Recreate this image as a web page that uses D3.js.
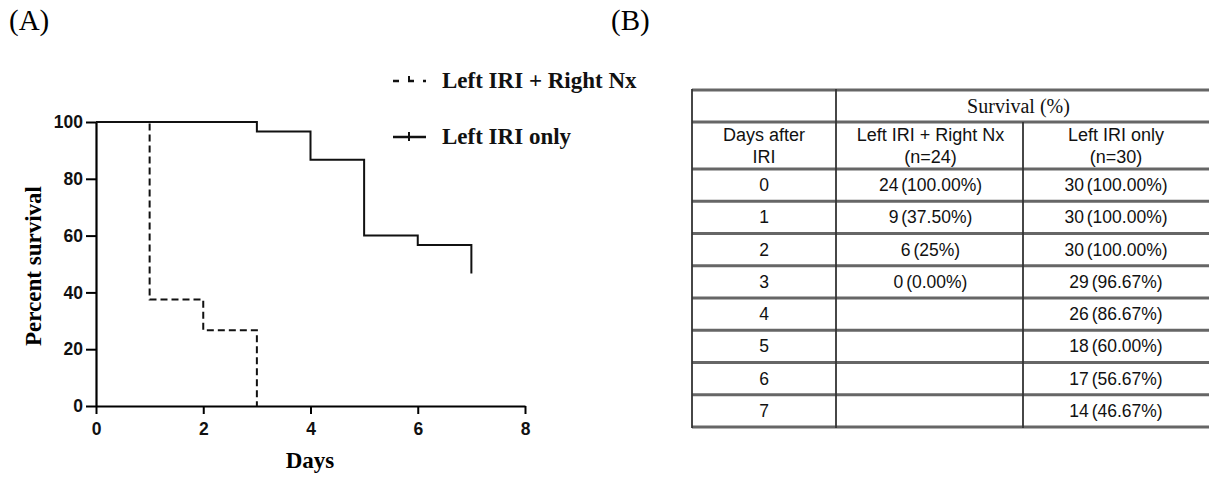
<!DOCTYPE html>
<html>
<head>
<meta charset="utf-8">
<script src="https://cdn.jsdelivr.net/npm/d3@7"></script>
<style>
  html, body { margin: 0; padding: 0; background: #fff; }
  svg { display: block; }
</style>
</head>
<body>
<svg id="fig" width="1209" height="479"></svg>
<script>
// Kaplan-Meier step data (days, percent survival)
const nxDays = [0, 1, 2, 3];
const nxPct = [100, 37.5, 26.7, 0];
const onlyDays = [0, 3, 4, 5, 6, 7];
const onlyPct = [100, 96.67, 86.67, 60, 56.67, 46.67];

const xTicks = [0, 2, 4, 6, 8];
const yTicks = [0, 20, 40, 60, 80, 100];

const seriesNames = ["Left IRI + Right Nx", "Left IRI only"];

// Survival table
const tableDays = ["0", "1", "2", "3", "4", "5", "6", "7"];
const nxCells = ["24 (100.00%)", "9 (37.50%)", "6 (25%)", "0 (0.00%)", "", "", "", ""];
const onlyCells = ["30 (100.00%)", "30 (100.00%)", "30 (100.00%)", "29 (96.67%)",
                   "26 (86.67%)", "18 (60.00%)", "17 (56.67%)", "14 (46.67%)"];
const headGroup = "Survival (%)";
const headDays = ["Days after", "IRI"];
const headNx = ["Left IRI + Right Nx", "(n=24)"];
const headOnly = ["Left IRI only", "(n=30)"];

const svg = d3.select("#fig");
const serif = "'Liberation Serif', 'Times New Roman', serif";
const sans = "'Liberation Sans', Arial, sans-serif";

// Panel letters
svg.append("text").attr("x", 9).attr("y", 30).attr("font-family", serif)
  .attr("font-size", 29).text("(A)");
svg.append("text").attr("x", 611).attr("y", 30).attr("font-family", serif)
  .attr("font-size", 29).text("(B)");

// ---------- Panel A: survival curves ----------
const x = d3.scaleLinear().domain([0, 8]).range([96, 525]);
const y = d3.scaleLinear().domain([0, 100]).range([406, 122]);

const gx = svg.append("g").attr("transform", `translate(0,${y(0)})`)
  .call(d3.axisBottom(x).tickValues(xTicks).tickSize(8).tickPadding(8).tickSizeOuter(0));
const gy = svg.append("g").attr("transform", `translate(${x(0)},0)`)
  .call(d3.axisLeft(y).tickValues(yTicks).tickSize(10).tickPadding(3).tickSizeOuter(0));

[gx, gy].forEach(g => {
  g.select(".domain").attr("stroke", "#000").attr("stroke-width", 2.2);
  g.selectAll(".tick line").attr("stroke", "#000").attr("stroke-width", 2);
  g.selectAll(".tick text").attr("font-family", sans).attr("font-weight", "bold")
    .attr("font-size", 17.5).attr("fill", "#111");
});
gx.selectAll(".tick text").attr("dy", "0.75em");

// Axis titles
svg.append("text").attr("x", 310).attr("y", 468).attr("text-anchor", "middle")
  .attr("font-family", serif).attr("font-weight", "bold").attr("font-size", 23)
  .text("Days");
svg.append("text").attr("transform", "translate(41,266) rotate(-90)")
  .attr("text-anchor", "middle").attr("font-family", serif).attr("font-weight", "bold")
  .attr("font-size", 23).text("Percent survival");

const step = d3.line().x(d => x(d[0])).y(d => y(d[1])).curve(d3.curveStepAfter);

svg.append("path").datum(d3.zip(onlyDays, onlyPct))
  .attr("d", step).attr("fill", "none").attr("stroke", "#111").attr("stroke-width", 2);
svg.append("path").datum(d3.zip(nxDays, nxPct))
  .attr("d", step).attr("fill", "none").attr("stroke", "#111").attr("stroke-width", 2)
  .attr("stroke-dasharray", "7,4");

// Legend
const legend = svg.append("g");
const legY = [81, 137];
const legBase = [88, 144];
seriesNames.forEach((name, i) => {
  const g = legend.append("g");
  g.append("line").attr("x1", 393).attr("x2", 426).attr("y1", legY[i]).attr("y2", legY[i])
    .attr("stroke", "#111").attr("stroke-width", 2.4)
    .attr("stroke-dasharray", i === 0 ? "6,9" : null);
  g.append("line").attr("x1", 409).attr("x2", 409)
    .attr("y1", legY[i] - 5).attr("y2", legY[i] + (i === 0 ? 0 : 4))
    .attr("stroke", "#111").attr("stroke-width", 2);
  g.append("text").attr("x", 442).attr("y", legBase[i]).attr("font-family", serif)
    .attr("font-weight", "bold").attr("font-size", 23).attr("fill", "#111").text(name);
});

// ---------- Panel B: table ----------
const tLeft = 692, tRight = 1209;
const colX = [692, 836, 1023, 1209];
const headY = [90, 122];
const rowY = d3.scaleLinear().domain([0, tableDays.length]).range([169, 427]);
const lineYs = headY.concat(d3.range(tableDays.length + 1).map(i => rowY(i)));

const tbl = svg.append("g");
tbl.selectAll("line.h").data(lineYs).join("line")
  .attr("x1", tLeft).attr("x2", tRight).attr("y1", d => d).attr("y2", d => d)
  .attr("stroke", "#666").attr("stroke-width", 2.8);
tbl.append("line").attr("x1", colX[0]).attr("x2", colX[0]).attr("y1", 89).attr("y2", 428)
  .attr("stroke", "#333").attr("stroke-width", 1.8);
tbl.append("line").attr("x1", colX[1]).attr("x2", colX[1]).attr("y1", 89).attr("y2", 428)
  .attr("stroke", "#333").attr("stroke-width", 1.8);
tbl.append("line").attr("x1", colX[2]).attr("x2", colX[2]).attr("y1", 122).attr("y2", 428)
  .attr("stroke", "#333").attr("stroke-width", 1.8);

const colC = [(colX[0] + colX[1]) / 2, (colX[1] + colX[2]) / 2 + 1, (colX[2] + colX[3]) / 2];

function cellText(cx, cy, txt, opts = {}) {
  return tbl.append("text").attr("x", cx).attr("y", cy).attr("text-anchor", "middle")
    .attr("dominant-baseline", "central")
    .attr("font-family", opts.serif ? serif : sans)
    .attr("font-size", opts.size || 17.5)
    .attr("word-spacing", opts.ws != null ? opts.ws : -2)
    .attr("fill", "#111").text(txt);
}

cellText((colX[1] + colX[3]) / 2 - 4, 106, headGroup, { serif: true, size: 20, ws: 0 });
[headDays, headNx, headOnly].forEach((lines, c) => {
  cellText(colC[c], 135, lines[0], { size: 18, ws: 0 });
  cellText(colC[c], 157, lines[1], { size: 18, ws: 0 });
});

tableDays.forEach((d, i) => {
  const cy = (rowY(i) + rowY(i + 1)) / 2;
  cellText(colC[0], cy, d);
  cellText(colC[1], cy, nxCells[i]);
  cellText(colC[2], cy, onlyCells[i]);
});
</script>
</body>
</html>
